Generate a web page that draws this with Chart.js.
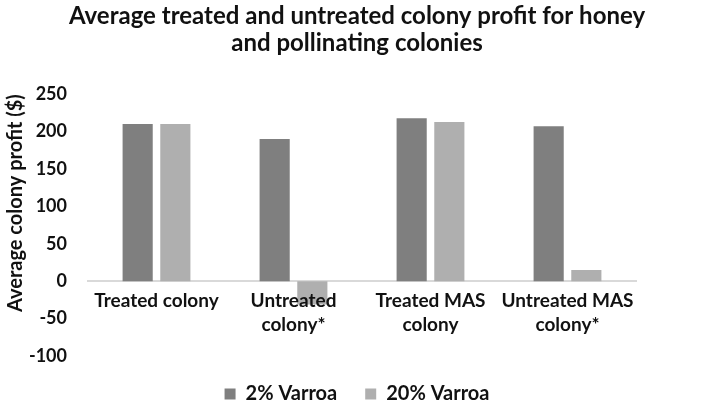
<!DOCTYPE html>
<html>
<head>
<meta charset="utf-8">
<script src="https://cdn.jsdelivr.net/npm/chart.js@4/dist/chart.umd.min.js"></script>
<style>
  html, body { margin: 0; padding: 0; background: #fff; }
  #wrap { width: 714px; height: 414px; }
</style>
</head>
<body>
<div id="wrap"><canvas id="chart"></canvas></div>
<script>
const categories = [
  'Treated colony',
  ['Untreated', 'colony*'],
  ['Treated MAS', 'colony'],
  ['Untreated MAS', 'colony*'],
];
const varroa2 = [210, 190, 218, 207];
const varroa20 = [210, -31, 213, 15];
const seriesNames = ['2% Varroa', '20% Varroa'];
const yTicks = { min: -100, max: 250, step: 50 };

const FONT = 'Lato, "Open Sans", sans-serif';
const TEXT = '#111';
Chart.defaults.font.family = FONT;
Chart.defaults.font.weight = 'bold';
Chart.defaults.color = TEXT;

new Chart(document.getElementById('chart'), {
  type: 'bar',
  data: {
    labels: categories,
    datasets: [
      {
        label: seriesNames[0],
        data: varroa2,
        backgroundColor: '#7f7f7f',
        barPercentage: 0.8,
        categoryPercentage: 0.55,
      },
      {
        label: seriesNames[1],
        data: varroa20,
        backgroundColor: '#afafaf',
        barPercentage: 0.8,
        categoryPercentage: 0.55,
      },
    ],
  },
  options: {
    responsive: true,
    maintainAspectRatio: false,
    animation: false,
    layout: { padding: 0 },
    scales: {
      x: {
        position: { y: 0 },
        grid: { display: false, drawTicks: false },
        border: { display: true, color: '#d9d9d9', width: 2 },
        ticks: {
          z: 1, // labels sit on top of the negative bar
          font: { size: 19, weight: 'bold', lineHeight: 1.3 },
          color: TEXT,
          padding: 7,
          maxRotation: 0,
          autoSkip: false,
        },
      },
      y: {
        min: yTicks.min,
        max: yTicks.max,
        grid: { display: false, drawTicks: false },
        border: { display: false },
        ticks: { stepSize: yTicks.step, font: { size: 18, weight: 'bold' }, color: TEXT, padding: 21 },
        title: {
          display: true,
          text: 'Average colony profit ($)',
          align: 'end',
          font: { size: 20, weight: 'bold' },
          color: TEXT,
          padding: { top: 4, bottom: 0 },
        },
        afterFit(scale) {
          scale.width = 88;
        },
      },
      // keeps the empty margin on the right, like the original
      yr: {
        position: 'right',
        grid: { display: false, drawTicks: false },
        border: { display: false },
        ticks: { display: false },
        afterFit(scale) {
          scale.width = 78;
        },
      },
    },
    plugins: {
      title: {
        display: true,
        text: ['Average treated and untreated colony profit for honey', 'and pollinating colonies'],
        font: { size: 24, weight: 'bold', lineHeight: 1.15 },
        color: TEXT,
        padding: { top: 2, bottom: 37 },
      },
      legend: {
        position: 'bottom',
        labels: {
          boxWidth: 11,
          boxHeight: 11,
          font: { size: 20, weight: 'bold' },
          color: TEXT,
          padding: 28,
        },
      },
      tooltip: { enabled: false },
    },
  },
});
</script>
</body>
</html>
